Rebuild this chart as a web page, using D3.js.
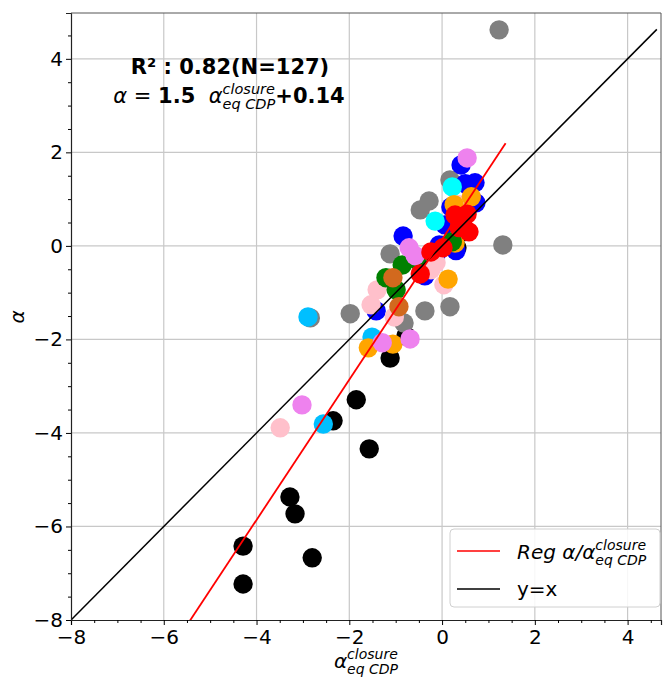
<!DOCTYPE html>
<html>
<head>
<meta charset="utf-8">
<script src="https://cdn.jsdelivr.net/npm/d3@7"></script>
<style>
  body { margin: 0; background: #fff; }
  svg { font-family: "DejaVu Sans", sans-serif; }
</style>
</head>
<body>
<svg id="chart" width="663" height="679"></svg>
<script>
// ---- data (x = alpha_eq CDP closure, y = alpha) ----
const blackPts = [[-4.29,-6.42],[-4.29,-7.23],[-3.28,-5.37],[-3.17,-5.73],[-2.80,-6.67],[-2.35,-3.74],[-1.85,-3.29],[-1.57,-4.34],[-1.12,-2.40],[-0.78,-1.93],[0.32,-0.04],[0.45,0.30]];
const greyPts = [[1.23,4.62],[1.31,0.02],[-1.98,-1.45],[-2.84,-1.54],[-1.12,-0.17],[-0.47,0.77],[-0.28,0.96],[-0.37,-1.39],[0.17,-1.30],[0.17,1.41],[-0.82,-1.65]];
const bluePts = [[0.41,1.73],[0.50,1.33],[0.71,1.35],[0.19,0.83],[0.06,0.45],[0.73,0.92],[-0.84,0.21],[-0.13,-0.19],[-0.37,-0.64],[-1.42,-1.39],[0.30,-0.10],[-0.06,0.02]];
const cyanPts = [[0.22,1.26],[-0.15,0.53]];
const skyPts = [[-2.89,-1.52],[-1.51,-1.95],[-2.56,-3.81]];
const pinkPts = [[-3.49,-3.89],[-1.40,-0.94],[-1.53,-1.26],[0.04,-0.83],[-0.24,-0.51],[-1.03,-1.52],[0.37,0.88],[-0.13,-0.36]];
const orangePts = [[0.13,-0.71],[-1.59,-2.18],[-1.06,-2.10],[0.28,0.06],[0.26,0.88],[0.63,1.05],[0.39,0.51]];
const greenPts = [[-0.86,-0.41],[-1.21,-0.68],[-0.99,-0.94],[0.22,0.09],[-0.55,-0.30]];
const chocoPts = [[-1.06,-0.68],[-0.93,-1.30]];
const violetPts = [[0.54,1.88],[-3.02,-3.40],[-1.29,-2.07],[-0.69,-1.99],[-0.71,-0.04],[-0.58,-0.21]];
const redPts = [[0.28,0.66],[0.54,0.68],[0.37,0.39],[0.58,0.30],[-0.24,-0.13],[0.02,-0.04],[-0.47,-0.60],[0.45,0.45]];

const seriesList = [
  {pts: blackPts, color: "#000000"},
  {pts: greyPts, color: "#808080"},
  {pts: bluePts, color: "#0000ff"},
  {pts: cyanPts, color: "#00ffff"},
  {pts: skyPts, color: "#00bfff"},
  {pts: pinkPts, color: "#ffc0cb"},
  {pts: orangePts, color: "#ffa500"},
  {pts: greenPts, color: "#008000"},
  {pts: chocoPts, color: "#d2691e"},
  {pts: violetPts, color: "#ee82ee"},
  {pts: redPts, color: "#ff0000"}
];

const slope = 1.5, intercept = 0.14, r2 = 0.82, nObs = 127;
const xDomain = [-8, 4.72];
const yDomain = [-8, 4.98];
const majorTicks = [-8, -6, -4, -2, 0, 2, 4];
const regRange = [-8, 1.37];
const idRange = [-8, 4.63];

// ---- layout ----
const svg = d3.select("#chart");
const L = 71, R = 661, T = 13, B = 620;
const x = d3.scaleLinear().domain(xDomain).range([L, R]);
const y = d3.scaleLinear().domain(yDomain).range([B, T]);

svg.append("defs").append("clipPath").attr("id", "clip")
  .append("rect").attr("x", L).attr("y", T).attr("width", R - L).attr("height", B - T);

// grid
const grid = svg.append("g");
majorTicks.filter(v => v > xDomain[0]).forEach(v => {
  grid.append("line").attr("x1", x(v)).attr("x2", x(v)).attr("y1", T).attr("y2", B)
    .attr("stroke", "#c8c8c8").attr("stroke-width", 1.2);
});
majorTicks.filter(v => v > yDomain[0]).forEach(v => {
  grid.append("line").attr("x1", L).attr("x2", R).attr("y1", y(v)).attr("y2", y(v))
    .attr("stroke", "#c8c8c8").attr("stroke-width", 1.2);
});

// points
const ptsG = svg.append("g").attr("clip-path", "url(#clip)");
seriesList.forEach(s => {
  ptsG.selectAll(null).data(s.pts).enter().append("circle")
    .attr("cx", d => x(d[0])).attr("cy", d => y(d[1])).attr("r", 9.7)
    .attr("fill", s.color);
});

// lines
const lineG = svg.append("g").attr("clip-path", "url(#clip)");
lineG.append("line")
  .attr("x1", x(idRange[0])).attr("y1", y(idRange[0]))
  .attr("x2", x(idRange[1])).attr("y2", y(idRange[1]))
  .attr("stroke", "#000").attr("stroke-width", 1.5);
lineG.append("line")
  .attr("x1", x(regRange[0])).attr("y1", y(slope * regRange[0] + intercept))
  .attr("x2", x(regRange[1])).attr("y2", y(slope * regRange[1] + intercept))
  .attr("stroke", "#ff0000").attr("stroke-width", 1.8);

// axes
const fmt = d => d < 0 ? "\u2212" + Math.abs(d) : String(d);
const minor = d3.range(-8, 5.01, 0.5).filter(v => !majorTicks.includes(v));

const xAxis = svg.append("g").attr("transform", `translate(0,${B})`)
  .call(d3.axisBottom(x).tickValues(majorTicks).tickFormat(fmt).tickSizeOuter(0).tickSize(5).tickPadding(3));
svg.append("g").attr("transform", `translate(0,${B})`)
  .call(d3.axisBottom(x).tickValues(minor.filter(v => v <= xDomain[1])).tickFormat("").tickSizeOuter(0).tickSize(3))
  .select(".domain").remove();
const yAxis = svg.append("g").attr("transform", `translate(${L},0)`)
  .call(d3.axisLeft(y).tickValues(majorTicks).tickFormat(fmt).tickSizeOuter(0).tickSize(5).tickPadding(3));
svg.append("g").attr("transform", `translate(${L},0)`)
  .call(d3.axisLeft(y).tickValues(minor.filter(v => v <= yDomain[1])).tickFormat("").tickSizeOuter(0).tickSize(3))
  .select(".domain").remove();
[xAxis, yAxis].forEach(a => {
  a.selectAll("text").attr("font-size", 20).attr("fill", "#000").attr("font-family", "DejaVu Sans");
  a.select(".domain").attr("stroke", "#222").attr("stroke-width", 1.2);
});
xAxis.selectAll("text").attr("dy", "0.78em");
// top/right frame
svg.append("line").attr("x1", L).attr("x2", R).attr("y1", T).attr("y2", T).attr("stroke", "#555").attr("stroke-width", 1);
svg.append("line").attr("x1", R).attr("x2", R).attr("y1", T).attr("y2", B).attr("stroke", "#555").attr("stroke-width", 1);

// rich text helper
function rich(g, x0, y0, parts, anchor) {
  const grp = g.append("g");
  let cx = 0, stackW = 0;
  parts.forEach(p => {
    const t = grp.append("text").attr("x", cx).attr("y", p.shift || 0)
      .attr("font-size", p.size || 20)
      .attr("font-style", p.italic ? "italic" : "normal")
      .attr("font-weight", p.bold ? "bold" : "normal")
      .attr("xml:space", "preserve")
      .style("white-space", "pre")
      .text(p.text);
    const w = t.node().getComputedTextLength();
    if (p.stack) { stackW = w; }
    else { cx += Math.max(w, stackW); stackW = 0; }
  });
  let dx = 0;
  if (anchor === "middle") dx = -cx / 2;
  grp.attr("transform", `translate(${x0 + dx},${y0})`);
  return grp;
}

// annotation
svg.append("text").attr("x", 230).attr("y", 74).attr("text-anchor", "middle")
  .attr("font-size", 21).attr("font-weight", "bold")
  .text(`R\u00b2 : ${r2.toFixed(2)}(N=${nObs})`);
rich(svg, 229, 103, [
  {text: "\u03b1", italic: true, size: 21},
  {text: " = ", size: 21},
  {text: String(slope), bold: true, size: 21},
  {text: "  ", size: 21},
  {text: "\u03b1", italic: true, size: 21},
  {text: "closure", italic: true, size: 14.5, shift: -9, stack: true},
  {text: "eq CDP", italic: true, size: 14.5, shift: 6},
  {text: "+" + intercept.toFixed(2), bold: true, size: 21}
], "middle");

// axis labels
rich(svg, 366, 668, [
  {text: "\u03b1", italic: true},
  {text: "closure", italic: true, size: 14, shift: -9, stack: true},
  {text: "eq CDP", italic: true, size: 14, shift: 6}
], "middle");
svg.append("text").attr("transform", "translate(24,317) rotate(-90)")
  .attr("text-anchor", "middle").attr("font-size", 20).attr("font-style", "italic").text("\u03b1");

// legend
const lg = svg.append("g");
lg.append("rect").attr("x", 450).attr("y", 529).attr("width", 210).attr("height", 78)
  .attr("rx", 4).attr("fill", "#fff").attr("fill-opacity", 0.85)
  .attr("stroke", "#d0d0d0").attr("stroke-width", 1);
lg.append("line").attr("x1", 457).attr("x2", 500).attr("y1", 551).attr("y2", 551)
  .attr("stroke", "#ff0000").attr("stroke-width", 1.5);
lg.append("line").attr("x1", 457).attr("x2", 500).attr("y1", 589).attr("y2", 589)
  .attr("stroke", "#000").attr("stroke-width", 1.5);
rich(lg, 517, 559, [
  {text: "Reg \u03b1/\u03b1", italic: true},
  {text: "closure", italic: true, size: 14, shift: -9, stack: true},
  {text: "eq CDP", italic: true, size: 14, shift: 6}
], "start");
lg.append("text").attr("x", 517).attr("y", 596).attr("font-size", 20).text("y=x");
</script>
</body>
</html>
